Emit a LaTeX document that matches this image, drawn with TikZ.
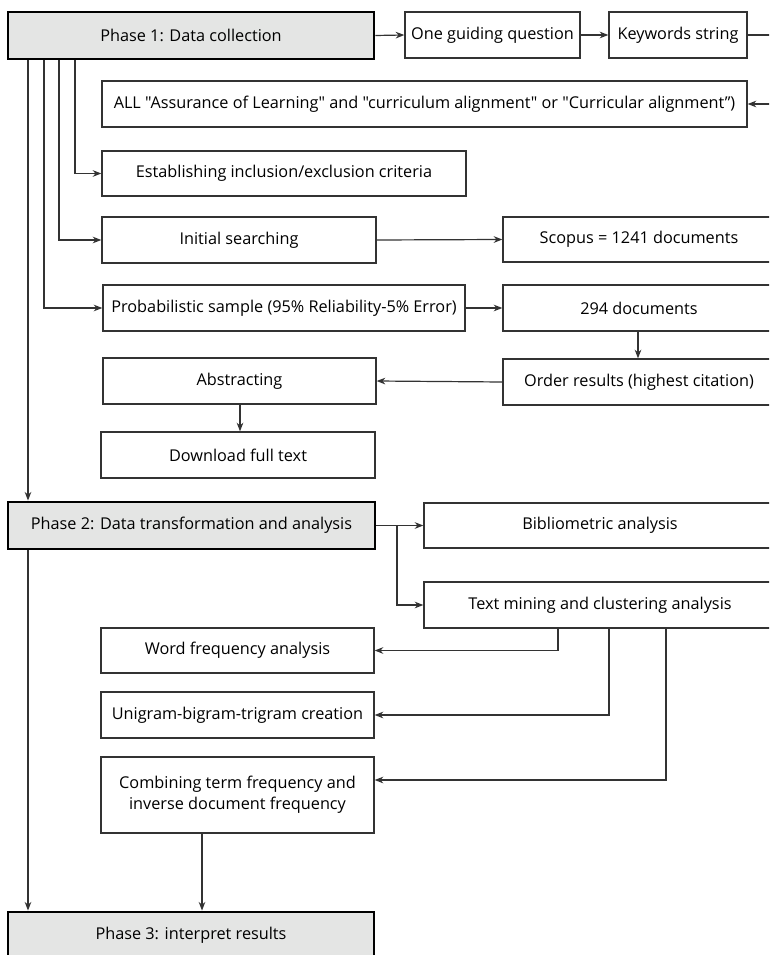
\documentclass[tikz,border=0pt]{standalone}
\usepackage{fontspec}
\setmainfont{Open Sans}[Ligatures=TeXOff]
\usetikzlibrary{arrows.meta}
\definecolor{phasefill}{HTML}{E4E5E4}
\definecolor{boxline}{HTML}{333333}
\tikzset{
  box/.style={draw=boxline, line width=1pt, fill=white, inner sep=0pt, align=center,
    font=\fontsize{12.2pt}{15.5pt}\selectfont, text=black},
  phase/.style={box, draw=black, line width=2.2pt, fill=phasefill},
  wd/.style={minimum width=#1*0.75pt},
  ht/.style={minimum height=#1*0.75pt},
  conn/.style={draw=boxline, line width=0.9pt},
  arr/.style={conn, -{Stealth[length=6.5pt, width=5pt]}},
}
\begin{document}
\begin{tikzpicture}[x=0.75pt, y=-0.75pt]
\clip (0,0) rectangle (769,955);
\useasboundingbox (0,0) rectangle (769,955);
% nodes
\node[phase, wd=366, ht=47] (p1) at (191,35.5) {Phase 1: Data collection};
\node[box, wd=175, ht=46] (q) at (492.5,35) {One guiding question};
\node[box, wd=138, ht=46] (kw) at (678,35) {Keywords string};
\node[box, wd=645, ht=46] (all) at (424.5,104) {ALL "Assurance of Learning" and "curriculum alignment" or "Curricular alignment”)};
\node[box, wd=364, ht=45] (est) at (284,173.5) {Establishing inclusion/exclusion criteria};
\node[box, wd=274, ht=46] (init) at (239,240) {Initial searching};
\node[box, wd=362, ht=46] (prob) at (284,308) {Probabilistic sample (95\% Reliability-5\% Error)};
\node[box, wd=272, ht=45] (scop) at (639,239.5) {Scopus = 1241 documents};
\node[box, wd=272, ht=46] (d294) at (639,308) {294 documents};
\node[box, wd=272, ht=46] (ord) at (639,382) {Order results (highest citation)};
\node[box, wd=273, ht=46] (abs) at (239.5,381) {Abstracting};
\node[box, wd=274, ht=46] (dl) at (238,455) {Download full text};
\node[phase, wd=367, ht=47] (p2) at (191.5,525.5) {Phase 2: Data transformation and analysis};
\node[box, wd=352, ht=45] (bib) at (600,525.5) {Bibliometric analysis};
\node[box, wd=352, ht=46] (tm) at (600,605) {Text mining and clustering analysis};
\node[box, wd=273, ht=45] (wf) at (237.5,650.5) {Word frequency analysis};
\node[box, wd=273, ht=46] (uni) at (237.5,715) {Unigram-bigram-trigram creation};
\node[box, wd=273, ht=76] (comb) at (237.5,795) {Combining term frequency and\\inverse document frequency};
\node[phase, wd=366, ht=46] (p3) at (191,935) {Phase 3: interpret results};
% helper coordinates
\coordinate (xa) at (28,0);
\coordinate (xb) at (44,0);
\coordinate (xc) at (59,0);
\coordinate (xd) at (75,0);
\coordinate (xe) at (638,0);
\coordinate (xf) at (240,0);
\coordinate (xg) at (397,0);
\coordinate (xh) at (558,0);
\coordinate (xi) at (609,0);
\coordinate (xj) at (666,0);
\coordinate (xk) at (202,0);
\coordinate (xr) at (790,0);
\coordinate (yc) at (0,780);
% connectors
\draw[arr] (p1.east) -- (q.west);
\draw[arr] (q.east) -- (kw.west);
\draw[arr] (kw.east) -- (kw.east -| xr) -- (all.east -| xr) -- (all.east);
\draw[arr] (p1.south -| xa) -- (p2.north -| xa);
\draw[arr] (p1.south -| xd) |- (est.west);
\draw[arr] (p1.south -| xc) |- (init.west);
\draw[arr] (p1.south -| xb) |- (prob.west);
\draw[arr] (init.east) -- (scop.west);
\draw[arr] (prob.east) -- (d294.west);
\draw[arr] (d294.south -| xe) -- (ord.north -| xe);
\draw[arr] (ord.west) -- (abs.east);
\draw[arr] (abs.south -| xf) -- (dl.north -| xf);
\draw[arr] (p2.east) -- (bib.west);
\draw[arr] (p2.east -| xg) |- (tm.west);
\draw[arr] (tm.south -| xh) |- (wf.east);
\draw[arr] (tm.south -| xi) |- (uni.east);
\draw[arr] (tm.south -| xj) |- (comb.east |- yc);
\draw[arr] (comb.south -| xk) -- (p3.north -| xk);
\draw[arr] (p2.south -| xa) -- (p3.north -| xa);
\end{tikzpicture}
\end{document}
